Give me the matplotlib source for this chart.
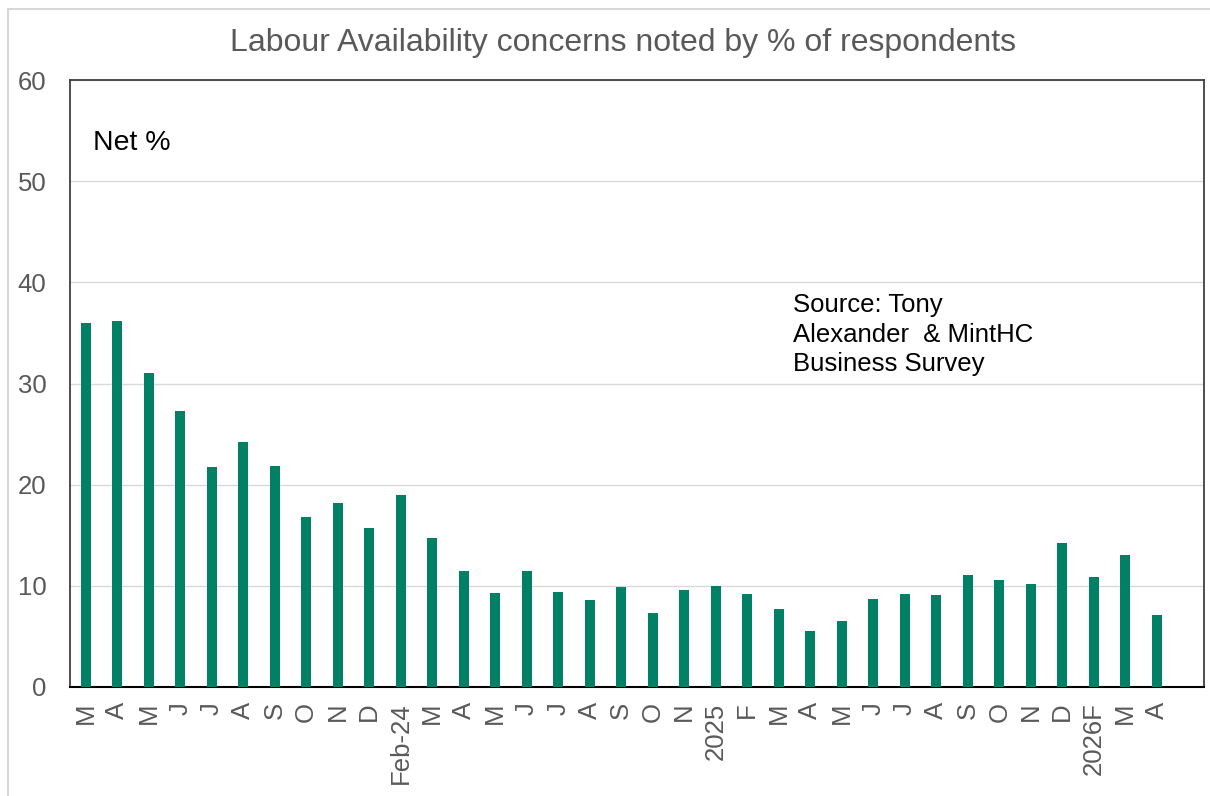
import numpy as np
import matplotlib
matplotlib.use('Agg')
import matplotlib.pyplot as plt
from matplotlib.patches import Rectangle

# Monthly survey readings, Mar-2023 .. Apr-2026
months = ['M', 'A', 'M', 'J', 'J', 'A', 'S', 'O', 'N', 'D',
          'Feb-24', 'M', 'A', 'M', 'J', 'J', 'A', 'S', 'O', 'N',
          '2025', 'F', 'M', 'A', 'M', 'J', 'J', 'A', 'S', 'O', 'N', 'D',
          '2026F', 'M', 'A']
net_pct = [36.0, 36.2, 31.0, 27.3, 21.7, 24.2, 21.8, 16.8, 18.2, 15.7,
           19.0, 14.7, 11.5, 9.3, 11.5, 9.4, 8.6, 9.9, 7.3, 9.6,
           10.0, 9.2, 7.7, 5.5, 6.5, 8.7, 9.2, 9.1, 11.1, 10.6, 10.2, 14.2,
           10.9, 13.0, 7.1]
y_ticks = [0, 10, 20, 30, 40, 50, 60]

plt.rcParams['font.family'] = ['Liberation Sans', 'DejaVu Sans']
GREEN = '#008064'
GREY_TXT = '#595959'

fig = plt.figure(figsize=(12.1, 7.96), dpi=100)
ax = fig.add_axes([70 / 1210, 1 - 687 / 796, 1134 / 1210, 607 / 796])

# light outer frame around the whole chart
fig.patches.append(Rectangle((8 / 1210, -0.05), 1.1, 1 - 9 / 796 + 0.05,
                             transform=fig.transFigure, fill=False,
                             edgecolor='#D0D0D0', linewidth=1.2))

x = np.arange(len(months))
ax.bar(x, net_pct, width=0.32, color=GREEN, zorder=3)

ax.set_xlim(-0.5, len(months) + 0.5)
ax.set_ylim(0, 60)
ax.set_yticks(y_ticks)
ax.set_yticklabels([str(v) for v in y_ticks])
ax.set_xticks(x)
ax.set_xticklabels(months, rotation=90, va='top', ha='center')
ax.tick_params(axis='y', length=0, pad=17, labelsize=18.5, labelcolor=GREY_TXT)
ax.tick_params(axis='x', length=0, pad=11, labelsize=18.5, labelcolor=GREY_TXT)

ax.grid(axis='y', color='#D9D9D9', linewidth=1.0, zorder=0)
for side in ['left', 'top', 'right']:
    ax.spines[side].set_color('#404040')
    ax.spines[side].set_linewidth(1.3)
ax.spines['bottom'].set_color('black')
ax.spines['bottom'].set_linewidth(1.5)

ax.text(0.0203, 0.917, 'Net %', transform=ax.transAxes, fontsize=20.5,
        color='black', va='top', ha='left')
ax.text(0.6376, 0.649, 'Source: Tony\nAlexander  & MintHC\nBusiness Survey',
        transform=ax.transAxes, fontsize=18.5, color='black',
        va='top', ha='left', linespacing=1.3)

fig.text(0.515, 0.946, 'Labour Availability concerns noted by % of respondents',
         fontsize=23, color=GREY_TXT, ha='center', va='center')

fig.savefig('out.png', dpi=100)
